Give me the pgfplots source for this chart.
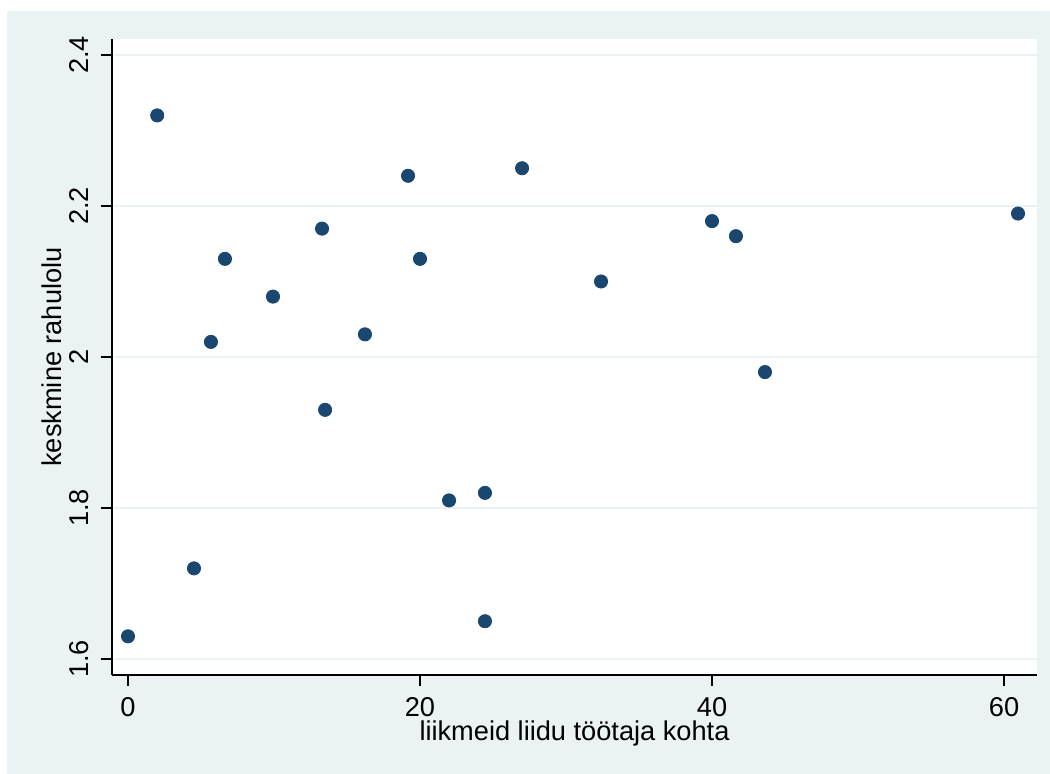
\documentclass[border=0pt]{standalone}
\usepackage{fontspec}
\setmainfont{Liberation Sans}
\usepackage{pgfplots}
\pgfplotsset{compat=1.18}
\definecolor{bgc}{HTML}{EAF2F3}
\definecolor{mk}{HTML}{1A476F}
\begin{document}
\fontsize{13.6}{16}\selectfont
\begin{tikzpicture}[x=1pt,y=1pt]
\fill[white] (0,0) rectangle (525,387);
\fill[bgc] (3.5,0) rectangle (525,381.5);
\begin{axis}[
  at={(56pt,49.5pt)}, anchor=south west,
  scale only axis, width=462.5pt, height=318pt,
  xmin=-1.096, xmax=62.26, ymin=1.5788, ymax=2.4212,
  axis background/.style={fill=white},
  axis x line=bottom, axis y line=left,
  axis line style={-, black, line width=0.6pt},
  tick align=outside, major tick length=5.5pt,
  tick style={black, line width=0.6pt},
  xtick={0,20,40,60}, ytick={1.6,1.8,2.0,2.2,2.4},
  yticklabels={1.6,1.8,2,2.2,2.4},
  /pgf/number format/assume math mode=true,
  ymajorgrids, grid style={bgc, line width=1.2pt},
  yticklabel style={rotate=90, anchor=south, yshift=1.5pt},
  xticklabel style={anchor=north, yshift=-0.8pt},
  xlabel={liikmeid liidu töötaja kohta},
  ylabel={keskmine rahulolu},
  xlabel style={at={(axis description cs:0.5,0)}, anchor=center, yshift=-29pt},
  ylabel style={at={(axis description cs:0,0.5)}, anchor=center, yshift=30pt},
  clip=false,
]
\addplot[only marks, mark=*, mark size=3.3pt, mark options={fill=mk, draw=mk}] coordinates {
(0,1.63) (2.0,2.32) (4.52,1.72) (5.68,2.02) (6.64,2.13) (9.93,2.08)
(13.29,2.17) (13.5,1.93) (16.23,2.03) (19.18,2.24) (20,2.13)
(21.99,1.81) (24.45,1.82) (24.45,1.65) (26.99,2.25) (32.4,2.10)
(40,2.18) (41.64,2.16) (43.63,1.98) (60.96,2.19)
};
\end{axis}
\end{tikzpicture}
\end{document}
